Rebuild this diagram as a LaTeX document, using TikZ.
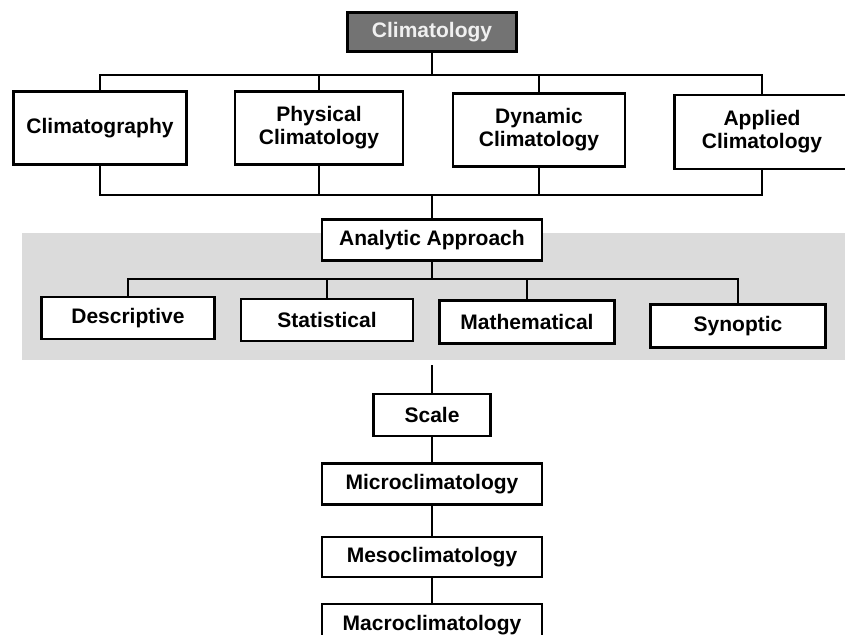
\documentclass[tikz,border=0pt]{standalone}
\usepackage{fontspec}
\setmainfont{Liberation Sans}
\usetikzlibrary{positioning}
\begin{document}
\begin{tikzpicture}[x=0.5pt,y=-0.5pt,every node/.style={font=\fontsize{10.5}{11.5}\selectfont\bfseries}]
\tikzstyle{bx}=[draw,line width=1.2pt,fill=white,align=center,inner sep=0pt]
\tikzstyle{lk}=[line width=0.9pt]
\clip (0,0) rectangle (845,634);
\fill[black!14] (22,233) rectangle (845,360);
\node[bx,fill=black!55,text=black!6,minimum width=84.5pt,minimum height=19.5pt] (clim) at (432,32) {Climatology};
\node[bx,minimum width=86.5pt,minimum height=36.5pt] (graphy) at (100,128) {Climatography};
\node[bx,minimum width=84pt,minimum height=36.5pt] (phys) at (319,128) {Physical\\Climatology};
\node[bx,minimum width=86pt,minimum height=36.5pt] (dyn) at (539,130) {Dynamic\\Climatology};
\node[bx,minimum width=87.5pt,minimum height=37pt] (appl) at (762,132) {Applied\\Climatology};
\node[bx,minimum width=110pt,minimum height=20.5pt] (ana) at (432,240) {Analytic Approach};
\node[bx,minimum width=86.5pt,minimum height=21pt] (desc) at (128,318) {Descriptive};
\node[bx,minimum width=86pt,minimum height=21pt] (stat) at (327,320) {Statistical};
\node[bx,minimum width=87.5pt,minimum height=21.5pt] (math) at (527,322) {Mathematical};
\node[bx,minimum width=87.5pt,minimum height=21.5pt] (syn) at (738,326) {Synoptic};
\node[bx,minimum width=58.5pt,minimum height=21pt] (scale) at (432,415) {Scale};
\node[bx,minimum width=110pt,minimum height=20.5pt,below=12.5pt of scale] (micro) {Microclimatology};
\node[bx,minimum width=110pt,minimum height=20pt,below=15pt of micro] (meso) {Mesoclimatology};
\node[bx,minimum width=110pt,minimum height=21pt,below=12.5pt of meso] (macro) {Macroclimatology};
% tree links
\coordinate (t1) at (432,75);
\coordinate (b1) at (432,195);
\coordinate (b2) at (432,279);
\coordinate (s0) at (432,365);
\draw[lk] (clim) -- (t1);
\draw[lk] (graphy) |- (t1) -| (appl);
\draw[lk] (phys) -- (phys |- t1);
\draw[lk] (dyn) -- (dyn |- t1);
\draw[lk] (graphy) |- (b1) -| (appl);
\draw[lk] (phys) -- (phys |- b1);
\draw[lk] (dyn) -- (dyn |- b1);
\draw[lk] (b1) -- (ana);
\draw[lk] (ana) -- (b2);
\draw[lk] (desc) |- (b2) -| (syn);
\draw[lk] (stat) -- (stat |- b2);
\draw[lk] (math) -- (math |- b2);
\draw[lk] (s0) -- (scale);
\draw[lk] (scale) -- (micro);
\draw[lk] (micro) -- (meso);
\draw[lk] (meso) -- (macro);
\end{tikzpicture}
\end{document}
